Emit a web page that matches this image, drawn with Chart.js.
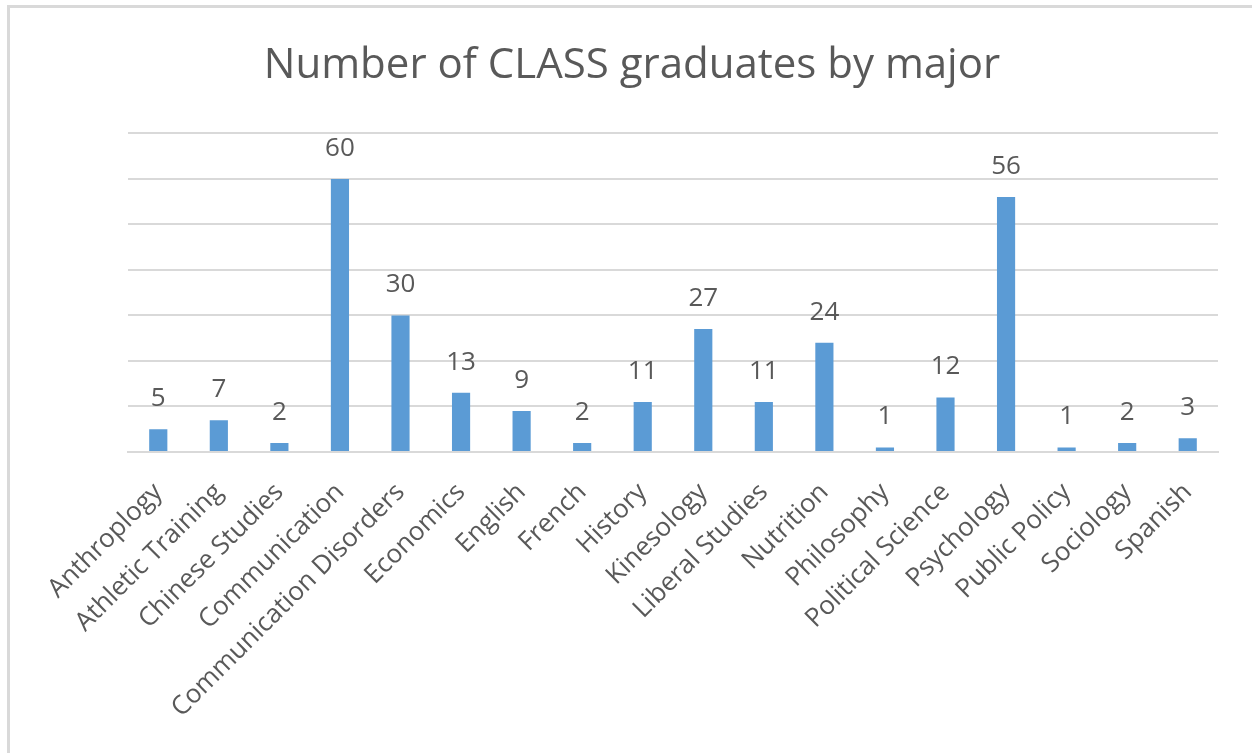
<!DOCTYPE html>
<html>
<head>
<meta charset="utf-8">
<script src="https://cdn.jsdelivr.net/npm/chart.js@4"></script>
<style>
  html, body { margin: 0; padding: 0; background: #fff; }
  #wrap { position: relative; width: 1252px; height: 753px; overflow: hidden; }
  #frame { position: absolute; left: 7px; top: 5px; width: 1260px; height: 760px;
           border-top: 3px solid #d9d9d9; border-left: 3px solid #d9d9d9; }
  canvas { position: absolute; left: 0; top: 0; }
</style>
</head>
<body>
<div id="wrap">
  <div id="frame"></div>
  <canvas id="chart" width="1252" height="753"></canvas>
</div>
<script>
const majors = ["Anthroplogy", "Athletic Training", "Chinese Studies", "Communication",
    "Communication Disorders", "Economics", "English", "French", "History", "Kinesology",
    "Liberal Studies", "Nutrition", "Philosophy", "Political Science", "Psychology",
    "Public Policy", "Sociology", "Spanish"];
const graduates = [5, 7, 2, 60, 30, 13, 9, 2, 11, 27, 11, 24, 1, 12, 56, 1, 2, 3];
const yMax = 70;
const yStep = 10;

const textColor = "#595959";
const fontFamily = "'Open Sans', sans-serif";

// value labels above each bar
const barLabels = {
    id: "barLabels",
    afterDatasetsDraw(chart) {
        const ctx = chart.ctx;
        const meta = chart.getDatasetMeta(0);
        ctx.save();
        ctx.fillStyle = textColor;
        ctx.font = "26px " + fontFamily;
        ctx.textAlign = "center";
        ctx.textBaseline = "alphabetic";
        meta.data.forEach((bar, i) => {
            ctx.fillText(String(graduates[i]), bar.x, bar.y - 23);
        });
        ctx.restore();
    }
};

new Chart(document.getElementById("chart"), {
    type: "bar",
    data: {
        labels: majors,
        datasets: [{
            data: graduates,
            backgroundColor: "#5b9bd5",
            borderWidth: 0,
            categoryPercentage: 1,
            barPercentage: 0.3
        }]
    },
    options: {
        responsive: false,
        animation: false,
        layout: { padding: { left: 46, right: 34, top: 4, bottom: 0 } },
        plugins: {
            legend: { display: false },
            tooltip: { enabled: false },
            title: {
                display: true,
                text: "Number of CLASS graduates by major",
                color: textColor,
                font: { family: fontFamily, size: 42, weight: "normal", lineHeight: 1.2 },
                padding: { top: 37, bottom: 42 }
            }
        },
        scales: {
            x: {
                grid: { display: false },
                border: { display: true, color: "#d9d9d9", width: 2 },
                ticks: {
                    color: textColor,
                    font: { family: fontFamily, size: 26 },
                    maxRotation: 45,
                    minRotation: 45,
                    autoSkip: false,
                    padding: 17
                },
                afterFit(scale) { scale.height = 301; }
            },
            y: {
                min: 0,
                max: yMax,
                ticks: { display: false, stepSize: yStep },
                grid: { color: "#d9d9d9", lineWidth: 2, drawTicks: false },
                border: { display: false },
                afterFit(scale) { scale.width = 82; }
            }
        }
    },
    plugins: [barLabels]
});
</script>
</body>
</html>
